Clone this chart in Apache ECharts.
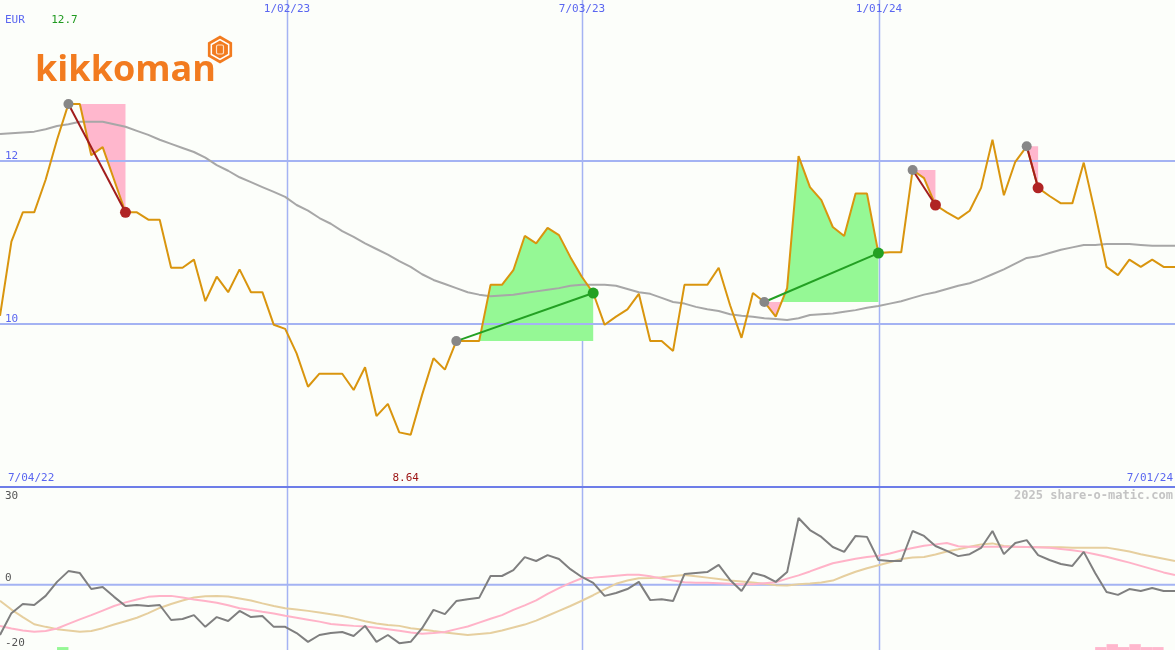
<!DOCTYPE html>
<html><head><meta charset="utf-8">
<script src="https://cdn.jsdelivr.net/npm/echarts@6/dist/echarts.min.js"></script>
<style>html,body{margin:0;padding:0;background:#fcfefa}#c{width:1175px;height:650px}</style>
</head><body><div id="c"></div>
<script>
// ---------------- data ----------------
const currency = 'EUR';
const rangeStart = '7/04/22';
const rangeEnd = '7/01/24';
const brand = 'kikkoman';
const watermark = '2025 share-o-matic.com';

// weekly closing price
const price = [
  10.10, 11.01, 11.37, 11.37, 11.77, 12.26, 12.70, 12.70, 12.07, 12.17,
  11.77, 11.37, 11.37, 11.28, 11.28, 10.69, 10.69, 10.79, 10.28, 10.58,
  10.39, 10.67, 10.39, 10.39, 9.99, 9.94, 9.64, 9.23, 9.39, 9.39,
  9.39, 9.19, 9.47, 8.87, 9.02, 8.67, 8.64, 9.13, 9.58, 9.44,
  9.79, 9.79, 9.79, 10.48, 10.48, 10.66, 11.08, 10.99, 11.18, 11.09,
  10.82, 10.58, 10.38, 9.99, 10.09, 10.18, 10.37, 9.79, 9.79, 9.67,
  10.48, 10.48, 10.48, 10.69, 10.23, 9.83, 10.38, 10.27, 10.09, 10.44,
  12.06, 11.68, 11.52, 11.19, 11.08, 11.60, 11.60, 10.87, 10.88, 10.88,
  11.89, 11.79, 11.46, 11.37, 11.29, 11.39, 11.67, 12.26, 11.58, 11.99,
  12.18, 11.67, 11.57, 11.48, 11.48, 11.98, 11.36, 10.70, 10.60, 10.79,
  10.70, 10.79, 10.70, 10.70
];
// long moving average (grey)
const priceMA = [
  12.33, 12.34, 12.35, 12.36, 12.39, 12.43, 12.45, 12.48, 12.48, 12.48,
  12.45, 12.42, 12.37, 12.32, 12.26, 12.21, 12.16, 12.11, 12.04, 11.95,
  11.88, 11.80, 11.74, 11.68, 11.62, 11.56, 11.46, 11.39, 11.30, 11.23,
  11.14, 11.07, 10.99, 10.92, 10.85, 10.77, 10.70, 10.61, 10.54, 10.49,
  10.44, 10.39, 10.36, 10.34, 10.35, 10.36, 10.38, 10.40, 10.42, 10.44,
  10.47, 10.48, 10.48, 10.48, 10.47, 10.43, 10.39, 10.37, 10.32, 10.27,
  10.25, 10.21, 10.18, 10.16, 10.12, 10.10, 10.09, 10.07, 10.06, 10.05,
  10.07, 10.11, 10.12, 10.13, 10.15, 10.17, 10.20, 10.22, 10.25, 10.28,
  10.32, 10.36, 10.39, 10.43, 10.47, 10.50, 10.55, 10.61, 10.67, 10.74,
  10.81, 10.83, 10.87, 10.91, 10.94, 10.97, 10.97, 10.98, 10.98, 10.98,
  10.97, 10.96, 10.96, 10.96
];
// trend moves: [start week, end week]
const trendSegments = [[6, 11], [40, 52], [67, 77], [80, 82], [90, 91]];

// oscillator panel
const momentum = [
  -15.4, -8.7, -5.9, -6.2, -3.4, 0.9, 4.2, 3.6, -1.3, -0.7,
  -3.7, -6.5, -6.2, -6.5, -6.2, -10.8, -10.5, -9.3, -12.9, -9.9,
  -11.1, -8.0, -9.9, -9.6, -12.9, -12.9, -14.8, -17.5, -15.4, -14.8,
  -14.5, -15.7, -12.6, -17.5, -15.4, -17.9, -17.5, -13.3, -7.7, -9.0,
  -5.0, -4.4, -4.0, 2.7, 2.7, 4.5, 8.5, 7.3, 9.1, 7.9,
  4.8, 2.4, 0.6, -3.4, -2.5, -1.3, 0.9, -4.7, -4.4, -5.0,
  3.3, 3.6, 3.9, 6.1, 1.5, -1.9, 3.6, 2.7, 0.9, 3.9,
  20.5, 16.8, 14.7, 11.6, 10.1, 15.0, 14.7, 7.6, 7.3, 7.3,
  16.5, 15.0, 11.9, 10.4, 8.8, 9.4, 11.3, 16.5, 9.4, 12.8,
  13.7, 9.1, 7.6, 6.4, 5.8, 10.1, 3.6, -2.2, -3.1, -1.3,
  -1.9, -1.0, -1.9, -1.9
];
const momentumFast = [
  -12.6, -13.4, -14.0, -14.4, -14.2, -13.4, -12.0, -10.6, -9.3, -7.9,
  -6.5, -5.4, -4.5, -3.7, -3.4, -3.4, -3.9, -4.5, -5.0, -5.5,
  -6.3, -7.2, -7.7, -8.3, -8.8, -9.5, -10.1, -10.7, -11.3, -12.0,
  -12.3, -12.6, -12.8, -13.2, -13.6, -14.1, -14.6, -15.0, -14.8, -14.5,
  -13.6, -12.8, -11.6, -10.4, -9.3, -7.7, -6.3, -4.8, -2.8, -1.0,
  0.6, 2.0, 2.2, 2.5, 2.8, 3.1, 3.1, 2.6, 1.9, 1.3,
  0.8, 0.6, 0.6, 0.5, 0.3, 0.2, 0.2, 0.5, 0.8, 1.9,
  2.9, 4.1, 5.4, 6.6, 7.3, 8.0, 8.5, 8.9, 9.6, 10.5,
  11.3, 12.0, 12.4, 12.8, 11.8, 11.7, 11.7, 11.7, 11.7, 11.7,
  11.6, 11.5, 11.4, 11.0, 10.6, 10.1, 9.4, 8.6, 7.7, 6.8,
  5.8, 4.8, 3.8, 3.0
];
const momentumSlow = [
  -4.9, -7.6, -9.9, -12.1, -12.9, -13.6, -14.0, -14.4, -14.2, -13.3,
  -12.2, -11.2, -10.1, -8.7, -7.1, -5.9, -4.8, -3.9, -3.5, -3.4,
  -3.6, -4.2, -4.8, -5.7, -6.5, -7.2, -7.6, -8.0, -8.5, -9.0,
  -9.6, -10.3, -11.2, -11.9, -12.3, -12.6, -13.3, -13.7, -14.2, -14.6,
  -15.0, -15.4, -15.1, -14.8, -14.0, -13.1, -12.2, -11.0, -9.5, -8.0,
  -6.5, -4.9, -3.2, -1.4, 0.3, 1.3, 2.0, 2.1, 2.3, 2.7,
  3.0, 2.6, 2.2, 1.8, 1.3, 1.0, 0.7, 0.3, -0.1, -0.2,
  0.2, 0.4, 0.7, 1.3, 2.7, 4.0, 5.1, 6.0, 6.9, 7.9,
  8.4, 8.5, 9.3, 10.2, 10.9, 11.7, 12.4, 12.7, 11.9, 11.7,
  11.6, 11.5, 11.5, 11.5, 11.4, 11.4, 11.4, 11.4, 10.8, 10.2,
  9.4, 8.7, 8.0, 7.3
];
// signal blocks on the bottom edge: [week, height]
const buySignals = [[5, 0.9]];
const sellSignals = [[96, 0.9], [97, 1.8], [98, 0.9], [99, 1.8], [100, 0.9], [101, 0.9]];

// axis ticks
const dateLines = ['1/02/23', '7/03/23', '1/01/24'];
const dateLinePos = [25.16, 51.02, 77.05];
const priceLevels = [12, 10];
const oscLevels = [30, 0, -20];

// ---------------- chart ----------------
const FONT = '11px "DejaVu Sans Mono", monospace';
const BLUE = '#5a66f0';
const GRIDC = '#a4b3f3';
const nWeeks = price.length - 1;
const fmt = v => String(Number(v.toFixed(2)));
const maxIdx = price.indexOf(Math.max(...price));
const minIdx = price.indexOf(Math.min(...price));

function vGuides(params, api) {
  const cs = params.coordSys;
  return { type: 'group', children: dateLinePos.map(p => {
    const x = Math.round(api.coord([p, 0])[0]) + 0.5;
    return { type: 'line', shape: { x1: x, y1: cs.y, x2: x, y2: cs.y + cs.height },
             style: { stroke: GRIDC, lineWidth: 1.5 } };
  }) };
}

function topTexts(params, api) {
  const cs = params.coordSys;
  const ch = [];
  priceLevels.forEach(v => {
    const y = api.coord([0, v])[1];
    ch.push({ type: 'line', shape: { x1: cs.x, y1: y, x2: cs.x + cs.width, y2: y }, style: { stroke: GRIDC, lineWidth: 2 } });
    ch.push({ type: 'text', x: cs.x + 5, y: y - 5, style: { text: String(v), fill: BLUE, font: FONT, align: 'left', verticalAlign: 'middle' } });
  });
  dateLinePos.forEach((p, k) => {
    const x = api.coord([p, 0])[0];
    ch.push({ type: 'text', x: x, y: cs.y + 9, style: { text: dateLines[k], fill: BLUE, font: FONT, align: 'center', verticalAlign: 'middle' } });
  });
  ch.push({ type: 'text', x: cs.x + 5, y: cs.y + 20, style: { text: currency, fill: BLUE, font: FONT, align: 'left', verticalAlign: 'middle' } });
  ch.push({ type: 'text', x: api.coord([maxIdx, 0])[0] - 4, y: cs.y + 20, style: { text: fmt(price[maxIdx]), fill: '#1f9a1f', font: FONT, align: 'center', verticalAlign: 'middle' } });
  const by = cs.y + cs.height - 8.5;
  ch.push({ type: 'text', x: cs.x + 8, y: by, style: { text: rangeStart, fill: BLUE, font: FONT, align: 'left', verticalAlign: 'middle' } });
  ch.push({ type: 'text', x: cs.x + cs.width - 2, y: by, style: { text: rangeEnd, fill: BLUE, font: FONT, align: 'right', verticalAlign: 'middle' } });
  ch.push({ type: 'text', x: api.coord([minIdx, 0])[0] - 5, y: by, style: { text: fmt(price[minIdx]), fill: '#9c1414', font: FONT, align: 'center', verticalAlign: 'middle' } });
  return { type: 'group', children: ch };
}

function bottomTexts(params, api) {
  const cs = params.coordSys;
  const ch = [];
  oscLevels.forEach((v, k) => {
    const y = api.coord([0, v])[1];
    if (k > 0 && k < oscLevels.length - 1) {
      ch.push({ type: 'line', shape: { x1: cs.x, y1: y, x2: cs.x + cs.width, y2: y }, style: { stroke: GRIDC, lineWidth: 2 } });
    }
    const ty = k === 0 ? y + 9 : y - 7;
    ch.push({ type: 'text', x: cs.x + 5, y: ty, style: { text: String(v), fill: '#555', font: FONT, align: 'left', verticalAlign: 'middle' } });
  });
  ch.push({ type: 'text', x: cs.x + cs.width - 2, y: cs.y + 9, style: { text: watermark, fill: '#c4c4c4', font: 'bold 12px "DejaVu Sans Mono", monospace', align: 'right', verticalAlign: 'middle' } });
  return { type: 'group', children: ch };
}

function fills(params, api) {
  const [s, e] = trendSegments[params.dataIndex];
  const base = price[s];
  const up = [api.coord([s, base])], dn = [api.coord([s, base])];
  for (let i = s; i <= e; i++) {
    if (i > s) {
      const a = price[i - 1] - base, b = price[i] - base;
      if (a * b < 0) { const c = api.coord([i - 1 + a / (a - b), base]); up.push(c); dn.push(c); }
    }
    up.push(api.coord([i, Math.max(price[i], base)]));
    dn.push(api.coord([i, Math.min(price[i], base)]));
  }
  up.push(api.coord([e, base])); dn.push(api.coord([e, base]));
  return { type: 'group', children: [
    { type: 'polygon', shape: { points: up }, style: { fill: '#95f895' } },
    { type: 'polygon', shape: { points: dn }, style: { fill: '#ffb7cd' } }
  ] };
}

function trends(params, api) {
  const [s, e] = trendSegments[params.dataIndex];
  const p0 = api.coord([s, price[s]]), p1 = api.coord([e, price[e]]);
  const rising = price[e] > price[s];
  return { type: 'group', children: [
    { type: 'line', shape: { x1: p0[0], y1: p0[1], x2: p1[0], y2: p1[1] }, style: { stroke: rising ? '#23a023' : '#a11d1d', lineWidth: 2 } },
    { type: 'circle', shape: { cx: p0[0], cy: p0[1], r: 5 }, style: { fill: '#878787' } },
    { type: 'circle', shape: { cx: p1[0], cy: p1[1], r: 5.5 }, style: { fill: rising ? '#23a023' : '#b02424' } }
  ] };
}

function signalBlocks(color) {
  return function (params, api) {
    const d = (color === 'buy' ? buySignals : sellSignals)[params.dataIndex];
    const a = api.coord([d[0], -20 + d[1]]), b = api.coord([d[0] + 1, -20]);
    return { type: 'rect', shape: { x: a[0], y: a[1], width: b[0] - a[0], height: b[1] - a[1] },
             style: { fill: color === 'buy' ? '#95f895' : '#ffb7cd' } };
  };
}

const hexPts = (cx, cy, r) => Array.from({ length: 6 }, (_, k) => {
  const ang = Math.PI / 6 + k * Math.PI / 3;
  return [cx + r * Math.cos(ang), cy + r * Math.sin(ang)];
});

const chart = echarts.init(document.getElementById('c'));
const line = (x, y, data, color, z) => ({
  type: 'line', xAxisIndex: x, yAxisIndex: y, data: data.map((v, i) => [i, v]),
  showSymbol: false, symbol: 'none', z, lineStyle: { color, width: 2 }, silent: true, animation: false
});

chart.setOption({
  backgroundColor: '#fcfefa',
  animation: false,
  grid: [
    { left: 0, right: 0, top: 0, height: 487 },
    { left: 0, right: 0, top: 487, height: 163 }
  ],
  xAxis: [
    { type: 'value', gridIndex: 0, min: 0, max: nWeeks,
      axisLine: { show: true, onZero: false, lineStyle: { color: '#6d7de8', width: 2 } },
      axisTick: { show: false }, axisLabel: { show: false }, splitLine: { show: false } },
    { type: 'value', gridIndex: 1, min: 0, max: nWeeks, show: false }
  ],
  yAxis: [
    { type: 'value', gridIndex: 0, min: 8, max: 13.975, show: false },
    { type: 'value', gridIndex: 1, min: -20, max: 30, show: false }
  ],
  graphic: [
    { type: 'text', left: 35, top: 53, z: 10,
      style: { text: brand, fill: '#f27b1f', font: 'bold 36px "Open Sans", sans-serif' } },
    { type: 'polygon', z: 10, shape: { points: hexPts(220, 49.5, 14) }, style: { fill: '#f27b1f' } },
    { type: 'polygon', z: 10, shape: { points: hexPts(220, 49.5, 10) }, style: { fill: 'none', stroke: '#fff', lineWidth: 1.5 } },
    { type: 'rect', z: 10, shape: { x: 216.5, y: 45, width: 7, height: 9, r: 1.5 }, style: { fill: 'none', stroke: '#fde0c8', lineWidth: 1.2 } }
  ],
  series: [
    { type: 'custom', xAxisIndex: 0, yAxisIndex: 0, z: 0, data: [[0, 10]], renderItem: vGuides, silent: true },
    { type: 'custom', xAxisIndex: 1, yAxisIndex: 1, z: 0, data: [[0, 0]], renderItem: vGuides, silent: true },
    { type: 'custom', xAxisIndex: 0, yAxisIndex: 0, z: 1, data: trendSegments.map(s => [s[0], price[s[0]]]), renderItem: fills, silent: true },
    { type: 'custom', xAxisIndex: 0, yAxisIndex: 0, z: 1.5, data: [[0, 10]], renderItem: topTexts, silent: true },
    { type: 'custom', xAxisIndex: 1, yAxisIndex: 1, z: 1.5, data: [[0, 0]], renderItem: bottomTexts, silent: true },
    line(0, 0, priceMA, '#a7a7a7', 2),
    line(0, 0, price, '#d9950e', 3),
    { type: 'custom', xAxisIndex: 0, yAxisIndex: 0, z: 4, data: trendSegments.map(s => [s[0], price[s[0]]]), renderItem: trends, silent: true },
    { type: 'custom', xAxisIndex: 1, yAxisIndex: 1, z: 1, data: buySignals.map(d => [d[0], -20]), renderItem: signalBlocks('buy'), silent: true },
    { type: 'custom', xAxisIndex: 1, yAxisIndex: 1, z: 1, data: sellSignals.map(d => [d[0], -20]), renderItem: signalBlocks('sell'), silent: true },
    line(1, 1, momentumSlow, '#e6cf9f', 2),
    line(1, 1, momentumFast, '#ffb3c8', 2.2),
    line(1, 1, momentum, '#7f7f7f', 3)
  ]
});
</script>
</body></html>
